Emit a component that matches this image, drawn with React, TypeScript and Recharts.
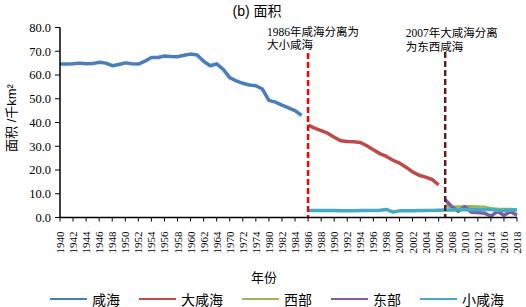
import React from 'react';
import { LineChart, Line, XAxis, YAxis, ReferenceLine } from 'recharts';

const years: string[] = [
  '1940','1941','1942','1943','1944','1945','1946','1947','1948','1949',
  '1950','1951','1952','1953','1954','1955','1956','1957','1958','1959',
  '1960','1961','1962','1963','1964','1967','1970','1971','1972','1973',
  '1974','1977','1980','1981','1982','1983','1984','1985','1986','1987',
  '1988','1989','1990','1991','1992','1993','1994','1995','1996','1997',
  '1998','1999','2000','2001','2002','2003','2004','2005','2006','2007',
  '2008','2009','2010','2011','2012','2013','2014','2015','2016','2017','2018',
];

// 咸海 1940–1985
const xianhai = [
  64.6,64.6,64.7,65.0,64.7,64.8,65.4,65.0,63.9,64.4,
  65.1,64.7,64.6,65.8,67.4,67.4,68.0,67.8,67.7,68.3,
  68.8,68.4,65.8,63.9,64.7,62.4,58.9,57.5,56.5,55.8,
  55.5,54.1,49.3,48.6,47.3,46.2,45.0,43.0,
];
// 大咸海 1986–2006
const daXianhai = [
  38.9,37.6,36.6,35.5,33.8,32.3,32.0,31.9,31.6,30.2,
  28.5,26.9,25.7,24.1,22.9,21.2,19.2,17.8,17.0,16.0,13.7,
];
// 西部 2007–2018
const xibu = [5.0,4.5,4.4,4.5,4.5,4.4,4.3,3.7,3.5,3.4,3.4,3.3];
// 东部 2007–2018
const dongbu = [7.5,4.6,2.6,4.6,2.2,2.1,1.8,0.6,2.5,1.0,2.4,1.0];
// 小咸海 1986–2018
const xiaoXianhai = [
  2.9,2.9,2.9,2.9,2.9,2.8,2.8,2.8,2.9,2.9,3.0,3.1,
  3.4,2.3,
  2.8,2.8,2.8,2.9,2.9,3.0,3.1,
  3.2,3.2,3.3,3.3,3.3,3.3,3.3,3.5,3.0,3.1,3.2,3.2,
];

const yTicks = [0, 10, 20, 30, 40, 50, 60, 70, 80];
const xLabel = '年份';
const yLabel = '面积 /千km²';
const title = '(b) 面积';
const note1986 = ['1986年咸海分离为', '大小咸海'];
const note2007 = ['2007年大咸海分离', '为东西咸海'];

const series = [
  { key: 'xianhai', name: '咸海', values: xianhai, start: '1940', color: '#4A7EBB' },
  { key: 'daXianhai', name: '大咸海', values: daXianhai, start: '1986', color: '#BE4B48' },
  { key: 'xibu', name: '西部', values: xibu, start: '2007', color: '#98B954' },
  { key: 'dongbu', name: '东部', values: dongbu, start: '2007', color: '#7D60A0' },
  { key: 'xiaoXianhai', name: '小咸海', values: xiaoXianhai, start: '1986', color: '#46AAC5' },
];

const data = years.map((year, i) => {
  const row: Record<string, any> = { year };
  series.forEach((s) => {
    const off = years.indexOf(s.start);
    const v = s.values[i - off];
    row[s.key] = i >= off && v !== undefined ? v : null;
  });
  return row;
});

const serif = '"Liberation Serif", "Times New Roman", "Noto Sans CJK SC", serif';
const sans = '"Liberation Sans", Arial, "Noto Sans CJK SC", sans-serif';

const XTick = (props: any) => {
  const { x, y, payload } = props;
  return (
    <g transform={`translate(${x},${y})`}>
      <text
        x={-8}
        y={0}
        transform="rotate(-90)"
        textAnchor="end"
        dominantBaseline="central"
        fontFamily={serif}
        fontSize={11}
        fill="#000"
      >
        {payload.value}
      </text>
    </g>
  );
};

const makeNote = (lines: string[], dx: number, dy1: number, dy2: number) => (props: any) => {
  const vb = props.viewBox || {};
  const x = vb.x ?? 0;
  const y = vb.y ?? 0;
  return (
    <g>
      <text x={x + dx} y={y + dy1} fontFamily={serif} fontSize={11.5} fill="#000">
        {lines[0]}
      </text>
      <text x={x + dx} y={y + dy2} fontFamily={serif} fontSize={11.5} fill="#000">
        {lines[1]}
      </text>
    </g>
  );
};

export default function App() {
  return (
    <div style={{ position: 'absolute', left: 0, top: 0, width: 526, height: 307, background: '#fff' }}>
      <LineChart
        width={526}
        height={307}
        data={data}
        margin={{ top: 27.5, right: 9, left: 0, bottom: 59.5 }}
      >
        <XAxis
          dataKey="year"
          interval={1}
          height={30}
          tick={<XTick />}
          tickSize={4}
          axisLine={{ stroke: '#000', strokeWidth: 1.5 }}
          tickLine={{ stroke: '#000', strokeWidth: 1 }}
        />
        <YAxis
          width={60}
          domain={[0, 80]}
          ticks={yTicks}
          tickFormatter={(v: number) => v.toFixed(1)}
          tickSize={5}
          tickMargin={4}
          axisLine={{ stroke: '#000', strokeWidth: 1.5 }}
          tickLine={{ stroke: '#000', strokeWidth: 1 }}
          tick={{ fill: '#000', fontFamily: serif, fontSize: 12.5 }}
          interval={0}
        />
        {series.map((s) => (
          <Line
            key={s.key}
            dataKey={s.key}
            name={s.name}
            type="linear"
            stroke={s.color}
            strokeWidth={3.5}
            strokeLinejoin="round"
            dot={false}
            activeDot={false}
            isAnimationActive={false}
          />
        ))}
        <ReferenceLine
          segment={[{ x: '1986', y: 69.3 }, { x: '1986', y: 0 }]}
          stroke="#FF0000"
          strokeWidth={2.5}
          strokeDasharray="6 3"
          label={{ content: makeNote(note1986, -41, -17, -4) } as any}
        />
        <ReferenceLine
          segment={[{ x: '2007', y: 69.7 }, { x: '2007', y: 0 }]}
          stroke="#5E1F1F"
          strokeWidth={2.5}
          strokeDasharray="6 3"
          label={{ content: makeNote(note2007, -39.5, -15, -1) } as any}
        />
      </LineChart>
      <div
        style={{
          position: 'absolute', left: 207, top: 2, width: 100, textAlign: 'center',
          fontFamily: sans, fontSize: 14, lineHeight: '18px', color: '#000', whiteSpace: 'nowrap',
        }}
      >
        {title}
      </div>
      <div
        style={{
          position: 'absolute', left: 12 - 50, top: 118 - 9, width: 100, textAlign: 'center',
          transform: 'rotate(-90deg)', fontFamily: sans, fontSize: 13, lineHeight: '18px',
          color: '#000', whiteSpace: 'nowrap',
        }}
      >
        {yLabel}
      </div>
      <div
        style={{
          position: 'absolute', left: 264 - 30, top: 278 - 9, width: 60, textAlign: 'center',
          fontFamily: serif, fontSize: 13, lineHeight: '18px', color: '#000',
        }}
      >
        {xLabel}
      </div>
      <div
        style={{
          position: 'absolute', left: 50, top: 290, height: 18, display: 'flex', alignItems: 'center',
          gap: 19, fontFamily: serif, fontSize: 14, color: '#000', whiteSpace: 'nowrap',
        }}
      >
        {series.map((s) => (
          <div key={s.key} style={{ display: 'flex', alignItems: 'center' }}>
            <div style={{ width: 37, height: 2.5, background: s.color, marginRight: 5 }} />
            <span>{s.name}</span>
          </div>
        ))}
      </div>
    </div>
  );
}
